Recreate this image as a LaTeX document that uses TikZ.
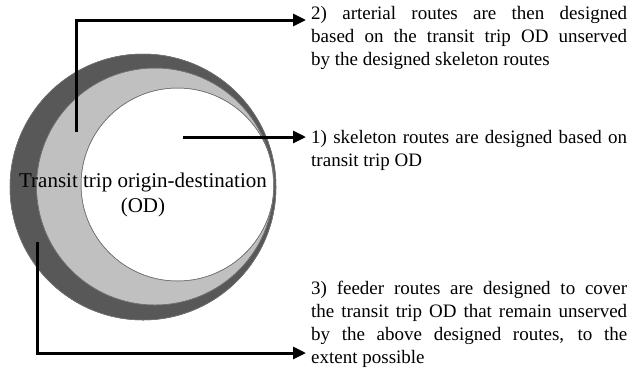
\documentclass[tikz,border=0pt]{standalone}
\usepackage{fontspec}
\setmainfont{Liberation Serif}
\usetikzlibrary{arrows.meta}
\hyphenpenalty=10000
\exhyphenpenalty=10000
\definecolor{darkring}{HTML}{585858}
\definecolor{lightring}{HTML}{C0C0C0}
\definecolor{ringedge}{HTML}{707070}
\tikzset{
  ring/.style={draw=ringedge, line width=0.5bp},
  pointer/.style={line width=3bp, -{Triangle[length=13bp,width=12bp]}},
  note/.style={anchor=north west, inner sep=0pt, text width=316bp, align=justify,
    font=\fontsize{19bp}{23bp}\selectfont},
  centerlabel/.style={align=center, inner sep=0pt, font=\fontsize{21bp}{25bp}\selectfont}
}
\begin{document}
\begin{tikzpicture}[x=1bp,y=-1bp]
\useasboundingbox (0,0) rectangle (628,373);
% rings
\fill[ring, fill=darkring] (143,187) circle[radius=133bp];
\fill[ring, fill=lightring] (155,186.5) circle[radius=118.5bp];
\fill[ring, fill=white] (177.5,184.5) circle[radius=96.5bp];
\draw[ring] (143,187) circle[radius=133bp];
\draw[ring] (155,186.5) circle[radius=118.5bp];
\draw[ring] (177.5,184.5) circle[radius=96.5bp];
% central label
\node[centerlabel] (od) at (143,195) {Transit trip origin-destination\\(OD)};
% notes
\node[note] (n2) at (311,6.5) {2) arterial routes are then designed\linebreak based on the transit trip OD unserved\linebreak by the designed skeleton routes};
\node[note] (n1) at (311,130.5) {1) skeleton routes are designed based on\linebreak transit trip OD};
\node[note] (n3) at (311,280.5) {3) feeder routes are designed to cover\linebreak the transit trip OD that remain unserved\linebreak by the above designed routes, to the\linebreak extent possible};
% pointers
\coordinate (s2) at (76,132);
\coordinate (e2) at (306,20);
\coordinate (s1) at (183,137);
\coordinate (e1) at (306,137);
\coordinate (s3) at (37,242);
\coordinate (e3) at (306,353);
\draw[pointer] (s2) |- (e2);
\draw[pointer] (s1) -- (e1);
\draw[pointer] (s3) |- (e3);
\end{tikzpicture}
\end{document}
